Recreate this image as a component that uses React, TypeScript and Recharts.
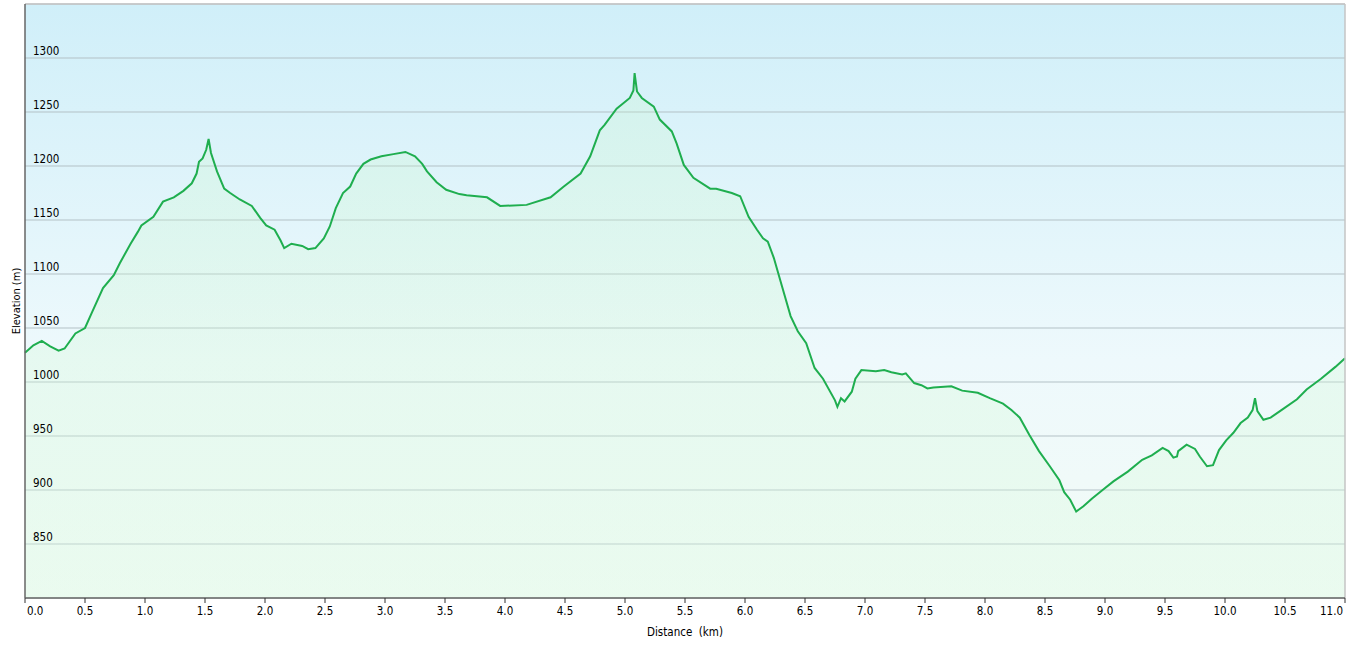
import { AreaChart, Area, XAxis, YAxis, CartesianGrid, ReferenceLine } from 'recharts'

// Elevation profile of the route.
const distanceKm = [
  0.0, 0.07, 0.14, 0.21, 0.28, 0.33, 0.42, 0.5, 0.56, 0.65, 0.74, 0.79, 0.88, 0.94, 0.97,
  1.07, 1.15, 1.24, 1.32, 1.39, 1.43, 1.45, 1.48, 1.51, 1.53, 1.55, 1.6, 1.66, 1.71, 1.79,
  1.89, 1.96, 2.01, 2.08, 2.13, 2.16, 2.22, 2.31, 2.36, 2.42, 2.49, 2.54, 2.59, 2.65, 2.71,
  2.76, 2.82, 2.88, 2.97, 3.07, 3.17, 3.25, 3.31, 3.35, 3.43, 3.51, 3.62, 3.68, 3.85, 3.96,
  4.18, 4.38, 4.49, 4.63, 4.71, 4.79, 4.83, 4.93, 5.04, 5.07, 5.08, 5.1, 5.14, 5.24, 5.29,
  5.39, 5.43, 5.49, 5.57, 5.71, 5.76, 5.89, 5.96, 6.03, 6.1, 6.15, 6.19, 6.24, 6.31, 6.38,
  6.44, 6.51, 6.58, 6.65, 6.75, 6.77, 6.8, 6.83, 6.89, 6.92, 6.97, 7.09, 7.16, 7.22, 7.31,
  7.34, 7.41, 7.47, 7.52, 7.57, 7.72, 7.81, 7.94, 8.04, 8.15, 8.22, 8.29, 8.37, 8.45, 8.54,
  8.62, 8.66, 8.71, 8.76, 8.82, 8.89, 8.98, 9.07, 9.19, 9.31, 9.39, 9.48, 9.53, 9.57, 9.6,
  9.61, 9.68, 9.75, 9.79, 9.85, 9.9, 9.95, 10.01, 10.07, 10.13, 10.19, 10.23, 10.25, 10.27,
  10.32, 10.38, 10.47, 10.6, 10.68, 10.8, 10.92, 11.0,
]

const elevationM = [
  1027, 1034, 1038, 1033, 1029, 1031, 1045, 1050, 1065, 1087, 1099, 1110, 1128, 1139, 1145,
  1153, 1167, 1171, 1177, 1184, 1193, 1204, 1207, 1215, 1225, 1212, 1195, 1179, 1175, 1169,
  1163, 1152, 1145, 1141, 1131, 1124, 1128, 1126, 1123, 1124, 1133, 1144, 1161, 1175, 1181,
  1193, 1202, 1206, 1209, 1211, 1213, 1209, 1202, 1195, 1185, 1178, 1174, 1173, 1171, 1163,
  1164, 1171, 1181, 1193, 1209, 1233, 1238, 1253, 1263, 1270, 1286, 1269, 1263, 1255, 1243,
  1232, 1221, 1201, 1189, 1179, 1179, 1175, 1172, 1153, 1141, 1133, 1130, 1115, 1088, 1061,
  1047, 1036, 1013, 1003, 983, 977, 985, 982, 991, 1003, 1011, 1010, 1011, 1009, 1007,
  1008, 999, 997, 994, 995, 996, 992, 990, 985, 980, 974, 967, 951, 936, 922,
  909, 898, 891, 880, 885, 892, 900, 908, 917, 928, 932, 939, 936, 930, 931,
  936, 942, 938, 931, 922, 923, 937, 946, 953, 962, 967, 974, 985, 973,
  965, 967, 974, 984, 993, 1003, 1014, 1022,
]

const distanceTicks = [0, 0.5, 1, 1.5, 2, 2.5, 3, 3.5, 4, 4.5, 5, 5.5, 6, 6.5, 7, 7.5, 8, 8.5, 9, 9.5, 10, 10.5, 11]
const elevationTicks = [850, 900, 950, 1000, 1050, 1100, 1150, 1200, 1250, 1300]

const data = distanceKm.map((km, i) => ({ km, elev: elevationM[i] }))

const FONT = '"DejaVu Sans Condensed", "DejaVu Sans", sans-serif'

const DistTick = (props: any) => {
  const { x, y, payload, index } = props
  const last = index === distanceTicks.length - 1
  const anchor = index === 0 ? 'start' : last ? 'end' : 'middle'
  const dx = index === 0 ? 2 : last ? -2 : 0
  return (
    <text x={x + dx} y={y} dy={10} textAnchor={anchor} fontSize={11.5} fontFamily={FONT} fill="#000">
      {Number(payload.value).toFixed(1)}
    </text>
  )
}

const ElevTick = (props: any) => {
  const { y, payload } = props
  return (
    <text x={33} y={y - 3} textAnchor="start" fontSize={11.5} fontFamily={FONT} fill="#000">
      {payload.value}
    </text>
  )
}

export default function App() {
  return (
    <div style={{ position: 'absolute', left: 0, top: 0, background: '#fff' }}>
      <AreaChart width={1349} height={645} data={data} margin={{ top: 4, right: 4, left: 0, bottom: 0 }}>
        <defs>
          <linearGradient id="plotBg" x1="0" y1="0" x2="0" y2="1">
            <stop offset="0%" stopColor="#d0eff9" />
            <stop offset="60%" stopColor="#eef9fc" />
            <stop offset="100%" stopColor="#f2fbf6" />
          </linearGradient>
          <linearGradient id="areaFill" x1="0" y1="0" x2="0" y2="1">
            <stop offset="0%" stopColor="#c6f7c4" stopOpacity={0.22} />
            <stop offset="100%" stopColor="#dcfae2" stopOpacity={0.35} />
          </linearGradient>
        </defs>
        <CartesianGrid vertical={false} stroke="#b3c1c6" strokeWidth={1} fill="url(#plotBg)" fillOpacity={1} />
        <XAxis
          dataKey="km"
          type="number"
          domain={[0, 11]}
          ticks={distanceTicks}
          interval={0}
          height={47}
          tick={<DistTick />}
          tickSize={5}
          tickMargin={2}
          tickLine={{ stroke: '#333' }}
          axisLine={{ stroke: '#666', strokeWidth: 1.5 }}
          label={{ value: 'Distance\u00a0 (km)', position: 'insideBottom', offset: 9, fontSize: 11.5, fontFamily: FONT, fill: '#000' }}
        />
        <YAxis
          type="number"
          domain={[800, 1350]}
          ticks={elevationTicks}
          interval={0}
          width={25}
          tick={<ElevTick />}
          tickLine={false}
          axisLine={{ stroke: '#666', strokeWidth: 1.5 }}
          label={{ value: 'Elevation (m)', angle: -90, position: 'center', dx: 4, fontSize: 11, fontFamily: FONT, fill: '#000' }}
        />
        <ReferenceLine y={1350} stroke="#c4c4c4" strokeWidth={1.5} />
        <ReferenceLine x={11} stroke="#c4c4c4" strokeWidth={1.5} />
        <Area
          type="linear"
          dataKey="elev"
          stroke="#1fae4f"
          strokeWidth={2}
          fill="url(#areaFill)"
          fillOpacity={1}
          dot={false}
          activeDot={false}
          isAnimationActive={false}
        />
      </AreaChart>
    </div>
  )
}
